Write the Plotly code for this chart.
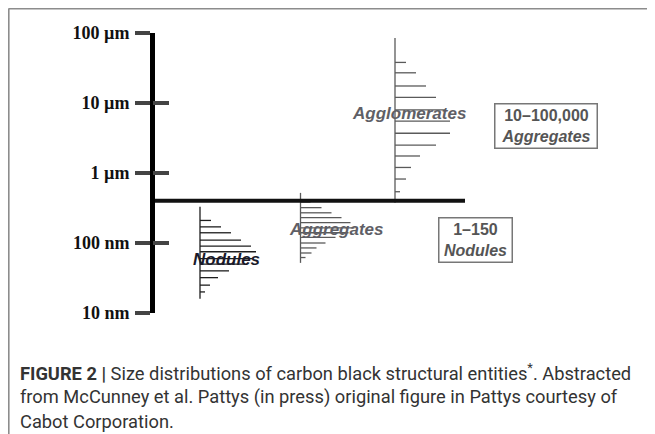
import numpy as np
import plotly.graph_objects as go

W, H = 655, 434
OFF = 8  # page offset of the plot inside the browser window

# ---------------- data ----------------
tick_vals_nm = [10, 100, 1000, 10000, 100000]
tick_labels = ["10 nm", "100 nm", "1 µm", "10 µm", "100 µm"]

# Nodules: bin sizes (nm) and relative frequencies
nodule_sizes = [210, 170, 140, 110, 90, 75, 60, 50, 40, 32, 25, 20]
nodule_freq = [11, 21, 31, 41, 51, 56, 52, 45, 29, 18, 10, 5]
nodule_span = [330, 16]

# Aggregates
aggregate_sizes = [385, 320, 270, 230, 195, 165, 140, 120, 100, 85, 72, 62]
aggregate_freq = [10, 21, 31, 41, 50, 54, 48, 35, 25, 16, 11, 5]
aggregate_span = [520, 52]

# Agglomerates
agglom_sizes = [38000, 27000, 17500, 12000, 8000, 5500, 3700, 2500, 1750, 1200, 820, 540]
agglom_freq = [11, 21, 31, 41, 50, 55, 55, 41, 25, 16, 11, 5]
agglom_span = [85000, 375]

divider_nm = 400

caption_lines = [
    "<b>FIGURE 2 |</b> Size distributions of carbon black structural entities<sup>*</sup>. Abstracted",
    "from McCunney et al. Pattys (in press) original figure in Pattys courtesy of",
    "Cabot Corporation.",
]

# ---------------- layout constants (window pixels) ----------------
AXIS_X = 152
Y_TOP_PX, Y_BOT_PX = 33, 313
NOD_X, AGG_X, AGL_X = 200, 300.5, 395
DIV_END_X = 465
FRAME_PX = 8.6


def px(x):
    return (x - OFF) / W


def py(y):
    return 1 - (y - OFF) / H


def hist_trace(base, sizes, freqs, span, color):
    xs, ys = [base, base, None], [span[0], span[1], None]
    for s, f in zip(sizes, freqs):
        xs += [base, base + f, None]
        ys += [s, s, None]
    return go.Scatter(x=xs, y=ys, mode="lines", line=dict(color=color, width=1.3),
                      hoverinfo="skip", showlegend=False)


fig = go.Figure()
fig.add_trace(hist_trace(NOD_X, nodule_sizes, nodule_freq, nodule_span, "#1e1e1e"))
fig.add_trace(hist_trace(AGG_X, aggregate_sizes, aggregate_freq, aggregate_span, "#5a5a5a"))
fig.add_trace(hist_trace(AGL_X, agglom_sizes, agglom_freq, agglom_span, "#5a5a5a"))

# divider line
fig.add_trace(go.Scatter(x=[AXIS_X, DIV_END_X], y=[divider_nm, divider_nm], mode="lines",
                         line=dict(color="#111", width=4), hoverinfo="skip", showlegend=False))
# dummy trace for the second (inside-tick) axis
fig.add_trace(go.Scatter(x=[AXIS_X], y=[1000], yaxis="y2", mode="markers",
                         marker=dict(opacity=0), hoverinfo="skip", showlegend=False))

ydom = [py(Y_BOT_PX), py(Y_TOP_PX)]
yrange = [np.log10(tick_vals_nm[0]), np.log10(tick_vals_nm[-1])]

fig.update_layout(
    template="none",
    width=W, height=H,
    margin=dict(l=0, r=0, t=0, b=0, pad=0, autoexpand=False),
    paper_bgcolor="white", plot_bgcolor="white",
    xaxis=dict(range=[OFF, W + OFF], domain=[0, 1], visible=False, fixedrange=True,
               automargin=False),
    yaxis=dict(type="log", range=yrange, domain=ydom, anchor="free", position=px(AXIS_X),
               automargin=False,
               showline=True, linecolor="#000", linewidth=5, showgrid=False, zeroline=False,
               tickvals=tick_vals_nm, ticktext=tick_labels, ticks="outside", ticklen=15,
               tickwidth=4, tickcolor="#444", ticklabelstandoff=2,
               tickfont=dict(family="Liberation Serif", size=18, color="#111", weight="bold")),
    yaxis2=dict(type="log", range=yrange, domain=ydom, anchor="free", position=px(AXIS_X),
                automargin=False,
                overlaying="y", showline=False, showgrid=False, zeroline=False,
                tickvals=tick_vals_nm, showticklabels=False, ticks="inside", ticklen=16,
                tickwidth=4, tickcolor="#444"),
    showlegend=False,
)

lab_font = dict(family="Liberation Sans", size=17, style="italic", weight="bold")
fig.add_annotation(x=226, y=np.log10(59), text="Nodules", showarrow=False,
                   font=dict(color="#1a1a2a", **lab_font))
fig.add_annotation(x=336, y=np.log10(158), text="Aggregates", showarrow=False,
                   font=dict(color="#5f5f66", **lab_font))
fig.add_annotation(x=409, y=np.log10(6970), text="Agglomerates", showarrow=False,
                   font=dict(color="#5f5f66", **lab_font))

box_font = dict(family="Liberation Sans", size=16, color="#555", weight="bold")
fig.add_annotation(x=546, y=np.log10(4690), text="10–100,000<br><i>Aggregates</i>",
                   showarrow=False, font=box_font, bordercolor="#777", borderwidth=1.5,
                   borderpad=1, width=99, height=41, align="center", bgcolor="white")
fig.add_annotation(x=475.5, y=np.log10(110), text="1–150<br><i>Nodules</i>",
                   showarrow=False, font=box_font, bordercolor="#777", borderwidth=1.5,
                   borderpad=1, width=70, height=41, align="center", bgcolor="white")

cap_y = [372, 397, 421]
for t, yp in zip(caption_lines, cap_y):
    fig.add_annotation(xref="paper", yref="paper", x=px(18), y=py(yp), xanchor="left",
                       yanchor="middle", text=t, showarrow=False, align="left",
                       font=dict(family="Roboto", size=18.3, color="#333"))

# frame (top and left borders)
fig.add_shape(type="line", xref="paper", yref="paper", x0=px(FRAME_PX), y0=0,
              x1=px(FRAME_PX), y1=py(FRAME_PX), line=dict(color="#8c8c8c", width=2))
fig.add_shape(type="line", xref="paper", yref="paper", x0=px(FRAME_PX), y0=py(FRAME_PX),
              x1=1, y1=py(FRAME_PX), line=dict(color="#8c8c8c", width=2))

fig.write_html("out.html")
